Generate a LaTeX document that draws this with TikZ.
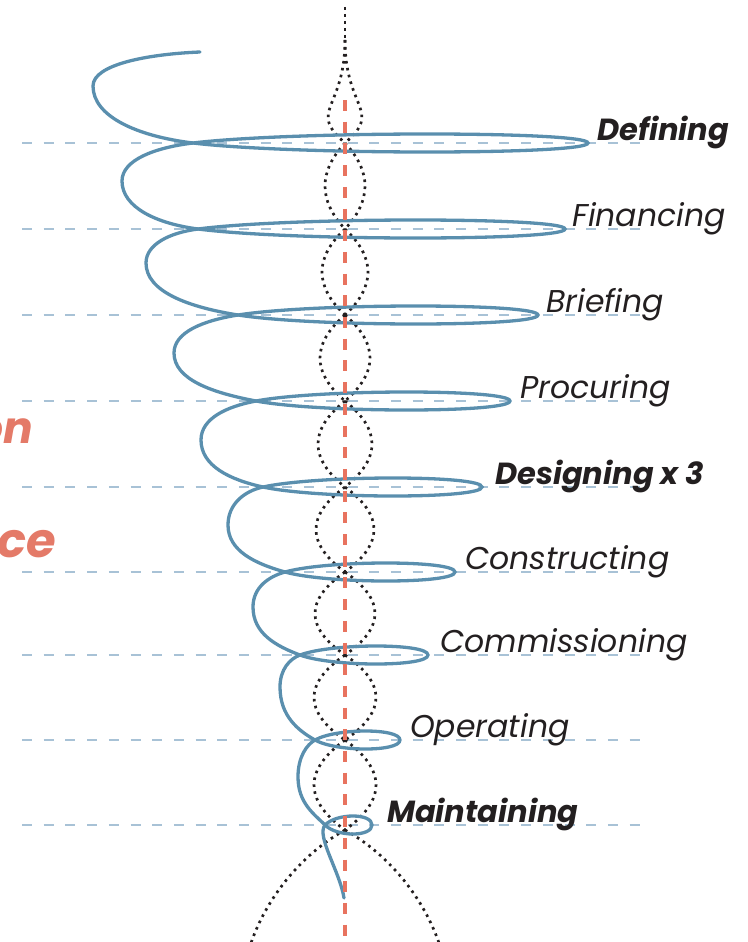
\documentclass[tikz,border=0pt]{standalone}
\usepackage{fontspec}
\setmainfont{Poppins}
\usetikzlibrary{positioning}
\definecolor{hxink}{HTML}{231F20}
\definecolor{hxblue}{HTML}{5A8FAE}
\definecolor{hxgrid}{HTML}{A8C2D6}
\definecolor{hxred}{HTML}{E8735F}
\definecolor{hxcoral}{HTML}{E47A68}
\tikzset{
  hxcoil/.style  ={draw=hxblue, line width=3.3pt, line cap=round},
  hxstrand/.style={draw=hxink, line width=2.7pt, dash pattern=on 2.6pt off 4.4pt},
  hxaxis/.style  ={draw=hxred, line width=3.3pt, dash pattern=on 11pt off 10.7pt},
  hxguide/.style ={draw=hxgrid, line width=1.6pt, dash pattern=on 10pt off 11.7pt},
  hxlbl/.style   ={font=\fontsize{31.5}{33}\selectfont\itshape, text=hxink, inner sep=0pt},
  hxlblb/.style  ={hxlbl, font=\fontsize{30.5}{33}\selectfont\bfseries\itshape},
  hxside/.style  ={font=\fontsize{48}{50}\selectfont\bfseries\itshape, text=hxcoral, inner sep=0pt},
}
\begin{document}
\begin{tikzpicture}[x=1pt, y=-1pt]
  \useasboundingbox (0,0) rectangle (747,942);
  \clip (0,0) rectangle (747,942);
  % guide lines, one per stage
  \foreach \y in {143,229,315,401,487,572,655,740,825}{
    \draw[hxguide] (22,\y) -- (640,\y);}
  % dotted strands round the axis
  \coordinate (sttop) at (345,7);
  \coordinate (stsplit) at (345,40);
  \draw[hxstrand] (sttop) -- (stsplit);
  \foreach \s in {-1,1}{
    \draw[hxstrand] (stsplit) .. controls (345,110) and ({345+38*\s},110) .. (345,143);}
  \foreach \ya/\yb/\w in {143/229/20, 229/315/23, 315/401/25, 401/487/27,
                          487/572/29, 572/655/30, 655/740/31, 740/830/31}{
    \foreach \s in {-1,1}{
      \draw[hxstrand] (345,\ya) .. controls ({345+4*\w/3*\s},{\ya+(\yb-\ya)/3})
        and ({345+4*\w/3*\s},{\yb-(\yb-\ya)/3}) .. (345,\yb);}}
  \coordinate (stknot) at (345,830);
  \draw[hxstrand] (stknot) .. controls (300,855) and (265,900) .. (250,946);
  \draw[hxstrand] (stknot) .. controls (390,855) and (425,900) .. (440,946);
  % the coil: flat loops at each stage
  \foreach \y/\xc/\xr in {143/193/588, 229/198/565, 315/238/538, 401/256/510,
                          487/263/482, 572/285/455, 655/300/428, 740/315/400, 825/325/372}{
    \draw[hxcoil] (\xc,\y) .. controls ({\xc+0.25*(\xr-\xc)},{\y+12}) and (\xr,{\y+12}) .. (\xr,\y)
      .. controls (\xr,{\y-12}) and ({\xc+0.25*(\xr-\xc)},{\y-12}) .. (\xc,\y);}
  % the coil: big turns on the left, stage to stage
  \foreach \ya/\xa/\ra/\xl/\yl/\yb/\xb/\rb in {
      143/193/588/122/181/229/198/565, 229/198/565/146/263/315/238/538,
      315/238/538/174/353/401/256/510, 401/256/510/201/440/487/263/482,
      487/263/482/228/525/572/285/455, 572/285/455/253/607/655/300/428,
      655/300/428/280/687/740/315/400, 740/315/400/298/777/825/325/372}{
    \pgfmathsetmacro\pa{atan(48/(\ra-\xa))}
    \pgfmathsetmacro\pb{atan(48/(\rb-\xb))}
    \draw[hxcoil] (\xa,\ya)
      .. controls ({\xa-0.55*(\xa-\xl)*cos(\pa)},{\ya+0.55*(\xa-\xl)*sin(\pa)})
         and (\xl,{\yl-0.55*(\yl-\ya)}) .. (\xl,\yl)
      .. controls (\xl,{\yl+0.55*(\yb-\yl)})
         and ({\xb-0.55*(\xb-\xl)*cos(\pb)},{\yb-0.55*(\xb-\xl)*sin(\pb)}) .. (\xb,\yb);}
  % free ends
  \coordinate (coilstart) at (200,52);
  \coordinate (coilend) at (344,898);
  \draw[hxcoil] (coilstart) .. controls (150,54) and (93,64) .. (93,86)
    .. controls (93,117) and (138.4,136.4) .. (193,143);
  \draw[hxcoil] (325,825) .. controls (316,836) and (340,872) .. (coilend);
  % axis
  \coordinate (axtop) at (345,100);
  \coordinate (axbot) at (345,942);
  \draw[hxaxis] (axtop) -- (axbot);
  % stage labels
  \foreach \x/\y/\s/\t in {597/143/hxlblb/Defining, 572/229/hxlbl/Financing,
      546/315/hxlbl/Briefing, 520/401/hxlbl/Procuring, 495/487/hxlblb/Designing x 3,
      465/572/hxlbl/Constructing, 440/655/hxlbl/Commissioning, 410/740/hxlbl/Operating,
      387/825/hxlblb/Maintaining}{
    \node[\s, anchor=base west] (stage\y) at (\x,{\y-3}) {\t};}
  % cut-off side text
  \node[hxside, font=\fontsize{44}{46}\selectfont\bfseries\itshape, anchor=base east]
    (sidetop) at (33,443) {on};
  \node[hxside, anchor=base east] (sidebot) at (56,557) {ce};
\end{tikzpicture}
\end{document}
